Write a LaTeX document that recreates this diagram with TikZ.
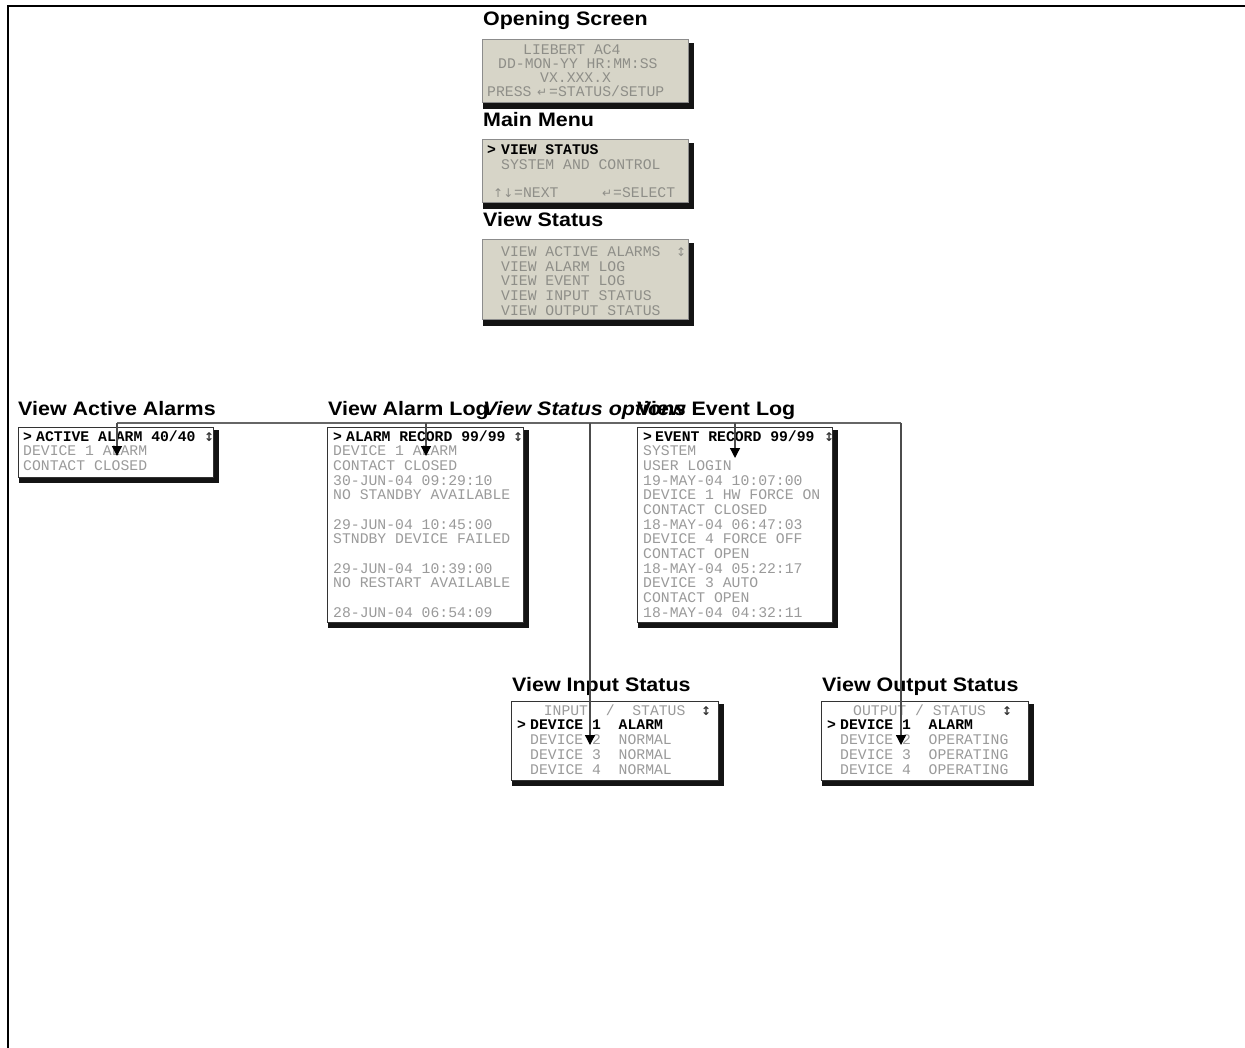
\documentclass[tikz,border=0pt]{standalone}
\usepackage{fontspec}
\usetikzlibrary{arrows.meta,fit}
\newfontfamily\ttlfont[FakeStretch=1.1]{Liberation Sans}
\newfontfamily\lcdfont{Liberation Mono}
\newfontfamily\symfont{DejaVu Sans}
\definecolor{lcdbg}{HTML}{D7D5C8}
\definecolor{lcdtx}{HTML}{8E8E88}
\definecolor{logtx}{HTML}{9A9A9A}
\tikzset{
  title/.style={anchor=base west, inner sep=0pt, font=\ttlfont\fontsize{19.5}{20}\selectfont\bfseries},
  opttitle/.style={anchor=base west, inner sep=0pt, font=\ttlfont\fontsize{19.5}{20}\selectfont\bfseries\itshape},
  lcd/.style={anchor=base west, inner sep=0pt, text=lcdtx, font=\lcdfont\fontsize{14.75}{14.7}\selectfont},
  logt/.style={lcd, text=logtx},
  lcdsel/.style={anchor=base west, inner sep=0pt, text=black, font=\lcdfont\fontsize{14.75}{14.7}\selectfont\bfseries},
  lcdsym/.style={anchor=base west, inner sep=0pt, text=lcdtx, font=\symfont\fontsize{12}{12}\selectfont},
  selsym/.style={lcdsym, text=black!80, font=\symfont\fontsize{12}{12}\selectfont\bfseries},
  lcdbox/.style={draw=black!45, fill=lcdbg, line width=1pt, inner sep=0pt},
  logbox/.style={draw=black!80, fill=white, line width=1pt, inner sep=0pt},
  shadowfill/.style={fill=black!92},
  hubline/.style={draw=black!60, line width=1.4pt},
  arr/.style={draw=black!70, line width=1.3pt, -{Triangle[width=10pt,length=10pt,color=black]}},
  frameline/.style={draw=black, line width=2.5pt}
}
\newcommand\screenbox[6]{%
  \fill[shadowfill] (#3+1,#4+3) rectangle (#5+6,#6+6);
  \node[#1, fit={(#3,#4) (#5,#6)}] (#2) {};
}
\begin{document}
\begin{tikzpicture}[x=1pt,y=-1pt]
\useasboundingbox (0,0) rectangle (1245,1048);
\fill[white] (0,0) rectangle (1245,1048);
\draw[frameline] (8,1048) -- (8,6) -- (1246,6);

% ---------- top screens ----------
\node[title] (tOpen) at (483,26) {Opening Screen};
\screenbox{lcdbox}{scrOpen}{482}{40}{688}{103}
\node[lcd] (o1) at (523,55) {LIEBERT AC4};
\node[lcd] (o2) at (498,69) {DD-MON-YY HR:MM:SS};
\node[lcd] (o3) at (540,83) {VX.XXX.X};
\node[lcd] (o4) at (487,97) {PRESS};
\node[lcdsym] (o5) at (537,97) {↵};
\node[lcd] (o6) at (549,97) {=STATUS/SETUP};

\node[title] (tMain) at (483,127) {Main Menu};
\screenbox{lcdbox}{scrMain}{482}{140}{688}{203}
\node[lcdsel] (m1) at (487,155) {>};
\node[lcdsel] (m2) at (501,155) {VIEW STATUS};
\node[lcd] (m3) at (501,170) {SYSTEM AND CONTROL};
\node[lcdsym] (m4) at (493,198) {↑↓};
\node[lcd] (m5) at (514,198) {=NEXT};
\node[lcdsym] (m6) at (602,198) {↵};
\node[lcd] (m7) at (613,198) {=SELECT};

\node[title] (tView) at (483,227) {View Status};
\screenbox{lcdbox}{scrView}{482}{240}{688}{320}
\foreach \i/\t in {0/VIEW ACTIVE ALARMS,1/VIEW ALARM LOG,2/VIEW EVENT LOG,3/VIEW INPUT STATUS,4/VIEW OUTPUT STATUS}
  \node[lcd] (v\i) at (501,{256.5+14.7*\i}) {\t};
\node[lcdsym] (vs) at (676,256.5) {↕};

% ---------- titles of the lower row ----------
\node[title] (tAct) at (18,416) {View Active Alarms};
\node[title] (tAlm) at (328,416) {View Alarm Log};
\node[title] (tEvt) at (637,416) {View Event Log};
\node[opttitle] (tOpt) at (483,416) {View Status options};
\node[title] (tIn) at (512,691) {View Input Status};
\node[title] (tOut) at (822,691) {View Output Status};

% ---------- active alarms ----------
\screenbox{logbox}{scrAct}{18}{427}{213}{477}
\node[lcdsel] (a0) at (23,441) {>};
\node[lcdsel] (a1) at (36,441) {ACTIVE ALARM 40/40};
\node[selsym] (a2) at (204,441) {↕};
\node[logt] (a3) at (23,455.7) {DEVICE 1 ALARM};
\node[logt] (a4) at (23,470.4) {CONTACT CLOSED};

% ---------- alarm log ----------
\screenbox{logbox}{scrAlm}{327}{427}{523}{622}
\node[lcdsel] (b0) at (333,441) {>};
\node[lcdsel] (b1) at (346,441) {ALARM RECORD 99/99};
\node[selsym] (b2) at (513,441) {↕};
\foreach \i/\t in {1/DEVICE 1 ALARM,2/CONTACT CLOSED,3/30-JUN-04 09:29:10,4/NO STANDBY AVAILABLE,6/29-JUN-04 10:45:00,7/STNDBY DEVICE FAILED,9/29-JUN-04 10:39:00,10/NO RESTART AVAILABLE,12/28-JUN-04 06:54:09}
  \node[logt] (al\i) at (333,{441+14.67*\i}) {\t};

% ---------- event log ----------
\screenbox{logbox}{scrEvt}{637}{427}{832}{622}
\node[lcdsel] (e0) at (643,441) {>};
\node[lcdsel] (e1) at (655,441) {EVENT RECORD 99/99};
\node[selsym] (e2) at (824,441) {↕};
\foreach \i/\t in {1/SYSTEM,2/USER LOGIN,3/19-MAY-04 10:07:00,4/DEVICE 1 HW FORCE ON,5/CONTACT CLOSED,6/18-MAY-04 06:47:03,7/DEVICE 4 FORCE OFF,8/CONTACT OPEN,9/18-MAY-04 05:22:17,10/DEVICE 3 AUTO,11/CONTACT OPEN,12/18-MAY-04 04:32:11}
  \node[logt] (el\i) at (643,{441+14.67*\i}) {\t};

% ---------- input status ----------
\screenbox{logbox}{scrIn}{511}{701}{718}{780}
\node[logt] (i0) at (543.6,715) {INPUT~~/~~STATUS};
\node[selsym] (i1) at (701,715) {↕};
\node[lcdsel] (i2) at (517,729.7) {>};
\node[lcdsel] (i3) at (530,729.7) {DEVICE~1~~ALARM};
\foreach \i in {2,3,4}
  \node[logt] (in\i) at (530,{715+14.75*\i}) {DEVICE~\i~~NORMAL};

% ---------- output status ----------
\screenbox{logbox}{scrOut}{821}{701}{1028}{780}
\node[logt] (u0) at (853,715) {OUTPUT~/~STATUS};
\node[selsym] (u1) at (1002,715) {↕};
\node[lcdsel] (u2) at (827,729.7) {>};
\node[lcdsel] (u3) at (840,729.7) {DEVICE~1~~ALARM};
\foreach \i in {2,3,4}
  \node[logt] (ou\i) at (840,{715+14.75*\i}) {DEVICE~\i~~OPERATING};

% ---------- connectors ----------
\coordinate (hubL) at (117,423);
\coordinate (hubR) at (901,423);
\coordinate (jAlm) at (426,423);
\coordinate (jIn) at (590,423);
\coordinate (jEvt) at (735,423);
\coordinate (tipAct) at (117,456);
\coordinate (tipAlm) at (426,456);
\coordinate (tipEvt) at (735,458);
\coordinate (tipIn) at (590,745);
\coordinate (tipOut) at (901,745);
\draw[hubline] (hubL) -- (hubR);
\draw[arr] (hubL) -- (tipAct);
\draw[arr] (jAlm) -- (tipAlm);
\draw[arr] (jEvt) -- (tipEvt);
\draw[arr] (jIn) -- (tipIn);
\draw[arr] (hubR) -- (tipOut);
\end{tikzpicture}
\end{document}
